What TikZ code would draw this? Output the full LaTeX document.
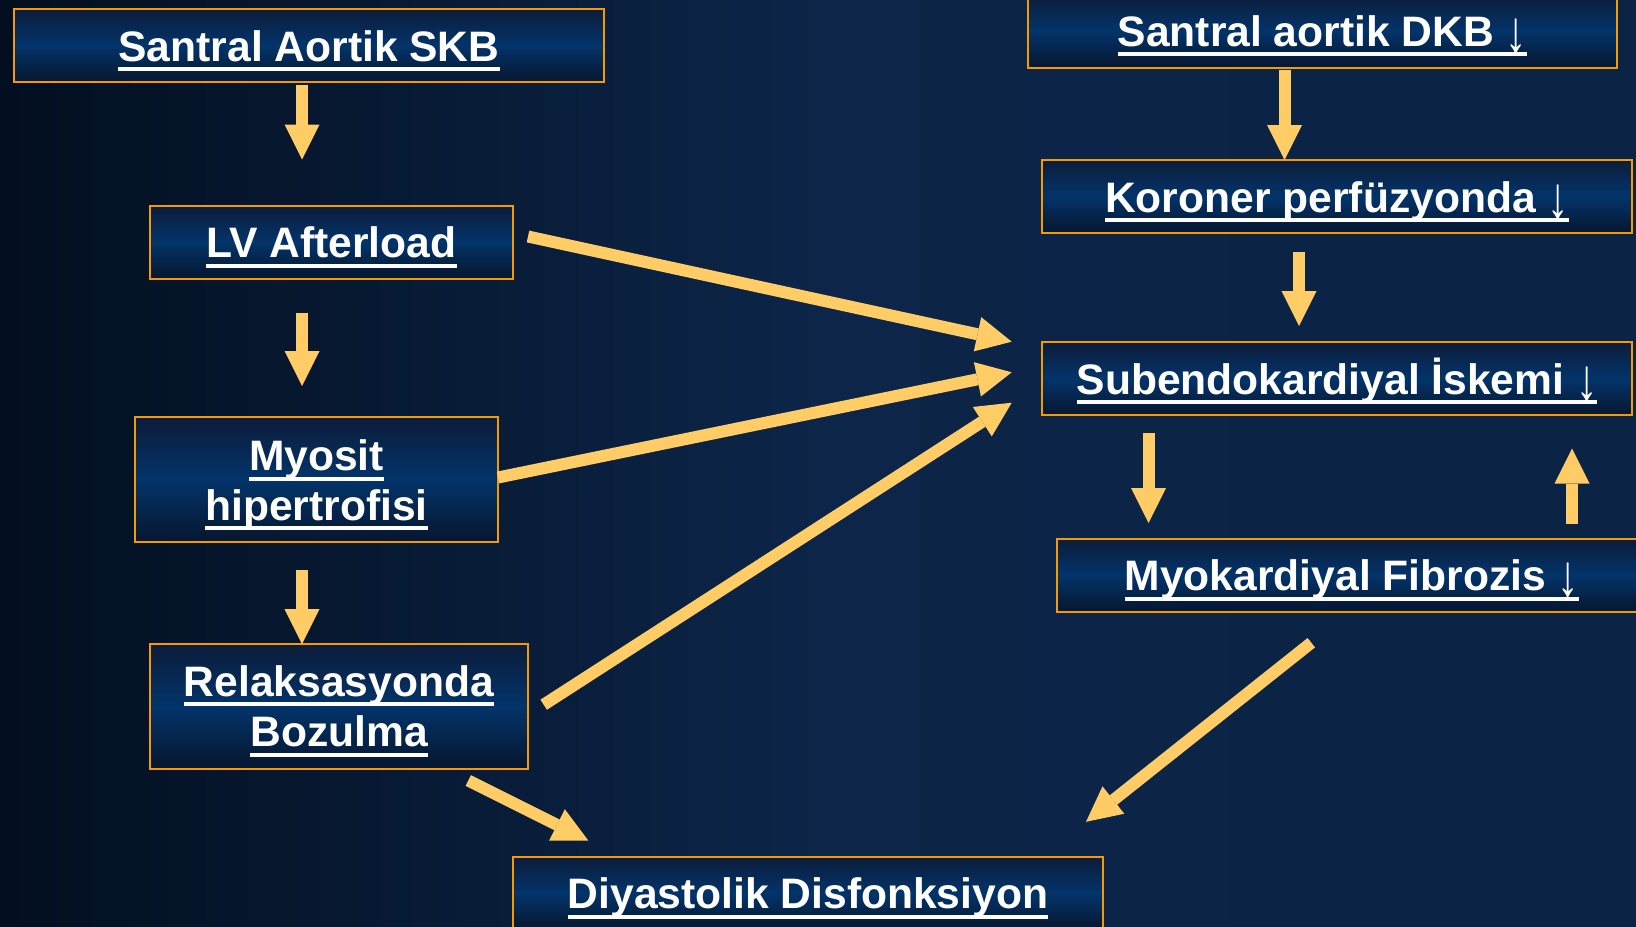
\documentclass[tikz,border=0pt]{standalone}
\usepackage{fontspec}
\setmainfont{Liberation Sans}
\usetikzlibrary{arrows.meta}

\definecolor{bgdark}{HTML}{030F20}
\definecolor{bgmid}{HTML}{0C2548}
\definecolor{bgright}{HTML}{0B2344}
\definecolor{boxtop}{HTML}{0C1C3A}
\definecolor{boxmid}{HTML}{03346A}
\definecolor{boxbot}{HTML}{06162E}
\definecolor{frame}{HTML}{F59A00}
\definecolor{flow}{HTML}{FFCC66}

% text with a heavy underline that runs through the descenders
\newcommand\ulword[1]{\setbox0\hbox{#1}\rlap{\copy0}\rule[-5pt]{\wd0}{2pt}}
% thin, lowered down arrow
\newcommand\downarr{{\mdseries\raisebox{-3pt}{\scalebox{1}[1.4]{↓}}}}

\begin{document}
\begin{tikzpicture}[x=0.5pt,y=-0.5pt,
  box/.style={rectangle, draw=frame, line width=1pt, top color=boxtop,
    bottom color=boxbot, middle color=boxmid, inner sep=0pt, outer sep=0pt,
    minimum height=36.5pt, minimum width=295pt},
  tallbox/.style={box, minimum height=62.5pt},
  boxtext/.style={text=white, font=\fontsize{21.3}{25}\selectfont\bfseries,
    inner sep=0pt, anchor=base},
  flowarrow/.style={draw=flow, line width=6pt,
    -{Triangle[width=17.5pt,length=17.5pt,line width=0pt]}}]

% background
\useasboundingbox (0,0) rectangle (1636,926);
\shade[left color=bgdark, right color=bgright, middle color=bgmid]
  (0,0) rectangle (1636,926);

% left column
\node[box] (sa) at (309,45.5) {};
\node[boxtext] (sa-t) at (309,61) {\ulword{Santral Aortik SKB}};

\node[box, minimum width=181.5pt] (lv) at (331.5,242) {};
\node[boxtext] (lv-t) at (331.5,257.5) {\ulword{LV Afterload}};

\node[tallbox, minimum width=181.5pt] (my) at (316.5,479.5) {};
\node[boxtext] (my-t1) at (316.5,470.7) {\ulword{Myosit}};
\node[boxtext] (my-t2) at (316.5,520) {\ulword{hipertrofisi}};

\node[tallbox, minimum width=189pt] (rb) at (339,706.5) {};
\node[boxtext] (rb-t1) at (339,696) {\ulword{Relaksasyonda}};
\node[boxtext] (rb-t2) at (339,746.7) {\ulword{Bozulma}};

% bottom
\node[box] (dd) at (808,893) {};
\node[boxtext] (dd-t) at (808,908.5) {\ulword{Diyastolik Disfonksiyon}};

% right column
\node[box, minimum width=294.5pt] (sd) at (1322.5,31) {};
\node[boxtext] (sd-t) at (1322.5,46.5) {\ulword{Santral aortik DKB \downarr}};

\node[box] (kp) at (1337,196.5) {};
\node[boxtext] (kp-t) at (1337,212) {\ulword{Koroner perfüzyonda \downarr}};

\node[box] (si) at (1337,378.5) {};
\node[boxtext] (si-t) at (1337,394) {\ulword{Subendokardiyal İskemi \downarr}};

\node[box] (mf) at (1352,575) {};
\node[boxtext] (mf-t) at (1352,590.5) {\ulword{Myokardiyal Fibrozis \downarr}};

% left column arrows
\draw[flowarrow] ([shift={(-7,3)}]sa.south) -- ([shift={(-29.5,-46)}]lv.north);
\draw[flowarrow] ([shift={(-29.5,34)}]lv.south) -- ([shift={(-14.5,-31)}]my.north);
\draw[flowarrow] ([shift={(-14.5,28)}]my.south) -- ([shift={(-37,0)}]rb.north);

% right column arrows
\draw[flowarrow] ([shift={(-38,2)}]sd.south) -- ([shift={(-52.5,0)}]kp.north);
\draw[flowarrow] ([shift={(-38,18.5)}]kp.south) -- ([shift={(-38,-16)}]si.north);
\draw[flowarrow] ([shift={(-188.5,18)}]si.south) -- ([shift={(-203.5,-15.5)}]mf.north);
\draw[flowarrow] ([shift={(220,-15)}]mf.north) -- ([shift={(235,33.5)}]si.south);

% converging arrows
\draw[flowarrow] ([shift={(15,-5.5)}]lv.east) -- ([shift={(-30.3,-36.8)}]si.west);
\draw[flowarrow] ([shift={(0,-2)}]my.east) -- ([shift={(-30.3,-6.2)}]si.west);
\draw[flowarrow] ([shift={(15.7,-1.8)}]rb.east) -- ([shift={(-30.3,24.2)}]si.west);
\draw[flowarrow] ([shift={(129.3,11.5)}]rb.south) -- ([shift={(-219.7,-16)}]dd.north);
\draw[flowarrow] ([shift={(-40.7,31.2)}]mf.south) -- ([shift={(278,-34.7)}]dd.north);

\end{tikzpicture}
\end{document}
